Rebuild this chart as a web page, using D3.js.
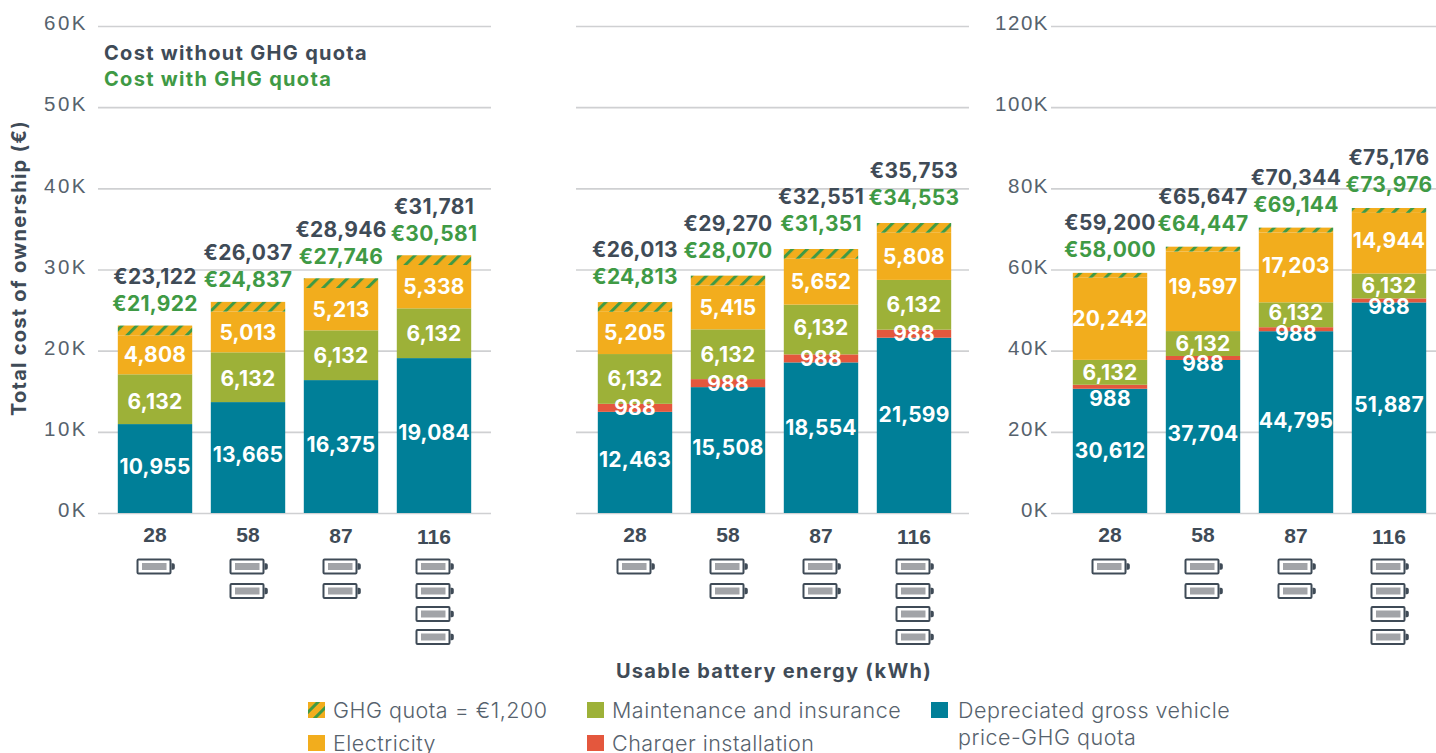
<!DOCTYPE html>
<html>
<head>
<meta charset="utf-8">
<script src="https://cdn.jsdelivr.net/npm/d3@7"></script>
<style>
  html, body { margin: 0; padding: 0; background: #fff; overflow: hidden; }
  svg { display: block; font-family: Inter, "Open Sans", sans-serif; }
</style>
</head>
<body>
<div id="chart"></div>
<script>
// values
var batteryKwh = ["28", "58", "87", "116"];
var batteryIcons = [1, 2, 2, 4];

var vehicle1 = [10955, 13665, 16375, 19084];
var charger1 = [0, 0, 0, 0];
var upkeep1 = [6132, 6132, 6132, 6132];
var power1 = [4808, 5013, 5213, 5338];
var withoutQuota1 = [23122, 26037, 28946, 31781];
var withQuota1 = [21922, 24837, 27746, 30581];

var vehicle2 = [12463, 15508, 18554, 21599];
var charger2 = [988, 988, 988, 988];
var upkeep2 = [6132, 6132, 6132, 6132];
var power2 = [5205, 5415, 5652, 5808];
var withoutQuota2 = [26013, 29270, 32551, 35753];
var withQuota2 = [24813, 28070, 31351, 34553];

var vehicle3 = [30612, 37704, 44795, 51887];
var charger3 = [988, 988, 988, 988];
var upkeep3 = [6132, 6132, 6132, 6132];
var power3 = [20242, 19597, 17203, 14944];
var withoutQuota3 = [59200, 65647, 70344, 75176];
var withQuota3 = [58000, 64447, 69144, 73976];

var quota = 1200;
var ticks1 = [0, 10000, 20000, 30000, 40000, 50000, 60000];
var ticks3 = [0, 20000, 40000, 60000, 80000, 100000, 120000];

var slate = "#3f4b57", green = "#3f9a45", tickGrey = "#56626d", grid = "#cfd0d2";
var colors = {vehicle: "#007f98", charger: "#e4573d", upkeep: "#9db138", power: "#f2ad1d"};

var top_y = 26, bottom_y = 513, panelWidth = 393;
var fmt = d3.format(",");

// the original nudges some labels by hand, so the shifts are kept per panel
var panels = [
    {left: 98, barStart: 98, max: 60000, ticks: ticks1, showAxis: true, tickGap: 10, tickSpace: "2.5px",
     vehicle: vehicle1, charger: charger1, upkeep: upkeep1, power: power1, wo: withoutQuota1, wi: withQuota1, totalGap: 49,
     shift: {vehicle: [-2, -3, -2, -3], charger: [0, 0, 0, 0], upkeep: [2, 1, 0, 0], power: [0, 0, 0, 0]}},
    {left: 576, barStart: 578, max: 60000, ticks: ticks1, showAxis: false, tickGap: 10, tickSpace: "2.5px",
     vehicle: vehicle2, charger: charger2, upkeep: upkeep2, power: power2, wo: withoutQuota2, wi: withQuota2, totalGap: 52,
     shift: {vehicle: [-3, -3, -10, -11], charger: [0, 0, 0, 0], upkeep: [0, 0, -2, 0], power: [0, 0, 0, 0]}},
    {left: 1051, barStart: 1053, max: 120000, ticks: ticks3, showAxis: true, tickGap: 2, tickSpace: "1.5px",
     vehicle: vehicle3, charger: charger3, upkeep: upkeep3, power: power3, wo: withoutQuota3, wi: withQuota3, totalGap: 50,
     shift: {vehicle: [0, -3, -2, -3], charger: [12, 5, 4, 6], upkeep: [0, 0, -2, -1], power: [0, -5, -2, -3]}}
];
var kwhShift = [0, 0, 1, 2];

var svg = d3.select("#chart").append("svg")
    .attr("width", 1436)
    .attr("height", 753);

// the striped quota fill
function hatch(id, size, barW) {
    var p = svg.append("defs").append("pattern")
        .attr("id", id)
        .attr("patternUnits", "userSpaceOnUse")
        .attr("width", size)
        .attr("height", size)
        .attr("patternTransform", "rotate(45)");
    p.append("rect").attr("width", size).attr("height", size).attr("fill", colors.power);
    p.append("rect").attr("width", barW).attr("height", size).attr("fill", green);
}
hatch("quotaHatch", 10.5, 3);
hatch("legendHatch", 9, 3);

panels.forEach(function (panel) {
    var x = d3.scaleBand()
        .domain(batteryKwh)
        .range([panel.barStart, panel.barStart + panelWidth])
        .paddingInner(0.2)
        .paddingOuter(0.213);

    var y = d3.scaleLinear()
        .domain([0, panel.max])
        .range([bottom_y, top_y]);

    var g = svg.append("g");

    // gridlines and value labels come from the left axis
    var yAxis = g.append("g")
        .attr("transform", "translate(" + panel.left + ",0)")
        .call(d3.axisLeft(y)
            .tickValues(panel.ticks)
            .tickSize(-panelWidth)
            .tickPadding(panel.tickGap)
            .tickFormat(function (d) { return (d / 1000) + "K"; }));
    yAxis.select(".domain").remove();
    yAxis.selectAll(".tick line").attr("stroke", grid).attr("stroke-width", 1.6);
    yAxis.selectAll(".tick text")
        .attr("dy", "0.18em")
        .attr("fill", tickGrey)
        .style("font-size", "20.5px")
        .style("font-weight", 300)
        .style("letter-spacing", panel.tickSpace)
        .style("display", panel.showAxis ? null : "none");

    var rows = batteryKwh.map(function (k, i) {
        return {
            kwh: k, i: i,
            vehicle: panel.vehicle[i], charger: panel.charger[i],
            upkeep: panel.upkeep[i], power: panel.power[i],
            quota: quota
        };
    });

    var keys = ["vehicle", "charger", "upkeep", "power", "quota"];
    var series = d3.stack().keys(keys)(rows);

    g.append("g").selectAll("g")
        .data(series)
        .enter().append("g")
        .attr("fill", function (d) { return d.key === "quota" ? "url(#quotaHatch)" : colors[d.key]; })
        .selectAll("rect")
        .data(function (d) { return d; })
        .enter().append("rect")
        .attr("x", function (d) { return x(d.data.kwh); })
        .attr("y", function (d) { return y(d[1]); })
        .attr("width", x.bandwidth())
        .attr("height", function (d) { return y(d[0]) - y(d[1]); });

    // white numbers inside the segments, on top of every rect
    var segLabels = [];
    series.forEach(function (s) {
        if (s.key === "quota") return;
        s.forEach(function (d) {
            var v = d[1] - d[0];
            if (v === 0) return;
            segLabels.push({v: v, cx: x(d.data.kwh) + x.bandwidth() / 2, cy: (y(d[0]) + y(d[1])) / 2 + panel.shift[s.key][d.data.i]});
        });
    });
    g.append("g").selectAll("text")
        .data(segLabels)
        .enter().append("text")
        .attr("x", function (d) { return d.cx; })
        .attr("y", function (d) { return d.cy; })
        .attr("dy", "0.36em")
        .attr("text-anchor", "middle")
        .attr("fill", "#fff")
        .style("font-size", "21px")
        .style("font-weight", 700)
        .style("letter-spacing", "0.2px")
        .text(function (d) { return fmt(d.v); });

    // totals above the bars
    var totals = g.append("g").selectAll("g")
        .data(rows)
        .enter().append("g")
        .attr("transform", function (d) {
            return "translate(" + (x(d.kwh) + x.bandwidth() / 2) + "," + (y(panel.wo[d.i]) - panel.totalGap) + ")";
        })
        .attr("text-anchor", "middle")
        .style("font-size", "21px")
        .style("font-weight", 700)
        .style("letter-spacing", "0.3px");
    totals.append("text")
        .attr("dy", "0.36em")
        .attr("fill", slate)
        .text(function (d) { return "€" + fmt(panel.wo[d.i]); });
    totals.append("text")
        .attr("y", 27)
        .attr("dy", "0.36em")
        .attr("fill", green)
        .text(function (d) { return "€" + fmt(panel.wi[d.i]); });

    // kWh labels
    var xAxis = g.append("g")
        .attr("transform", "translate(0," + bottom_y + ")")
        .call(d3.axisBottom(x).tickSize(0));
    xAxis.select(".domain").remove();
    xAxis.selectAll(".tick text")
        .attr("y", function (d, i) { return 21 + kwhShift[i]; })
        .attr("dy", "0.36em")
        .attr("fill", slate)
        .style("font-size", "21px")
        .style("font-weight", 700);

    // battery icons under each label
    var iconRows = [566.5, 591, 614, 637];
    rows.forEach(function (d) {
        d3.range(batteryIcons[d.i]).forEach(function (n) {
            var cx = x(d.kwh) + x.bandwidth() / 2;
            var icon = g.append("g").attr("transform", "translate(" + cx + "," + iconRows[n] + ")");
            icon.append("rect").attr("x", -17.5).attr("y", -7).attr("width", 33).attr("height", 14)
                .attr("rx", 1).attr("fill", "#fff").attr("stroke", slate).attr("stroke-width", 2);
            icon.append("rect").attr("x", -13).attr("y", -3.5).attr("width", 24.5).attr("height", 7)
                .attr("fill", "#a2a4a8");
            icon.append("path").attr("d", "M16.5,-3.2h1.5a1.8,1.8 0 0 1 1.8,1.8v2.8a1.8,1.8 0 0 1 -1.8,1.8h-1.5z").attr("fill", slate);
        });
    });
});

// axis titles
svg.append("text")
    .attr("transform", "translate(19,268) rotate(-90)")
    .attr("dy", "0.36em")
    .attr("text-anchor", "middle")
    .attr("fill", slate)
    .style("font-size", "20px")
    .style("font-weight", 700)
    .style("letter-spacing", "1.25px")
    .text("Total cost of ownership (€)");

svg.append("text")
    .attr("x", 774)
    .attr("y", 671)
    .attr("dy", "0.36em")
    .attr("text-anchor", "middle")
    .attr("fill", slate)
    .style("font-size", "20px")
    .style("font-weight", 700)
    .style("letter-spacing", "1.3px")
    .text("Usable battery energy (kWh)");

// key to the two total labels
svg.append("text").attr("x", 104).attr("y", 53).attr("dy", "0.36em")
    .attr("fill", slate).style("font-size", "20px").style("font-weight", 700).style("letter-spacing", "1.3px")
    .text("Cost without GHG quota");
svg.append("text").attr("x", 104).attr("y", 79).attr("dy", "0.36em")
    .attr("fill", green).style("font-size", "20px").style("font-weight", 700).style("letter-spacing", "1.3px")
    .text("Cost with GHG quota");

// legend
var legendNames = ["GHG quota = €1,200", "Electricity", "Maintenance and insurance", "Charger installation", "Depreciated gross vehicle"];
var legendFills = ["url(#legendHatch)", colors.power, colors.upkeep, colors.charger, colors.vehicle];
var legendX = [308, 308, 587, 587, 931];
var legendY = [710, 743, 710, 743, 710];

var legend = svg.append("g").selectAll("g")
    .data(legendNames)
    .enter().append("g")
    .attr("transform", function (d, i) { return "translate(" + legendX[i] + "," + legendY[i] + ")"; });
legend.append("rect")
    .attr("y", -8)
    .attr("width", 17)
    .attr("height", 16)
    .attr("fill", function (d, i) { return legendFills[i]; });
legend.append("text")
    .attr("x", function (d, i) { return i === 4 ? 27 : 25; })
    .attr("dy", "0.36em")
    .attr("fill", tickGrey)
    .style("font-size", "21.5px")
    .style("font-weight", 300)
    .style("letter-spacing", "0.5px")
    .text(function (d) { return d; });
svg.append("text")
    .attr("x", 958).attr("y", 737).attr("dy", "0.36em")
    .attr("fill", tickGrey)
    .style("font-size", "21.5px")
    .style("font-weight", 300)
    .style("letter-spacing", "0.5px")
    .text("price-GHG quota");
</script>
</body>
</html>
